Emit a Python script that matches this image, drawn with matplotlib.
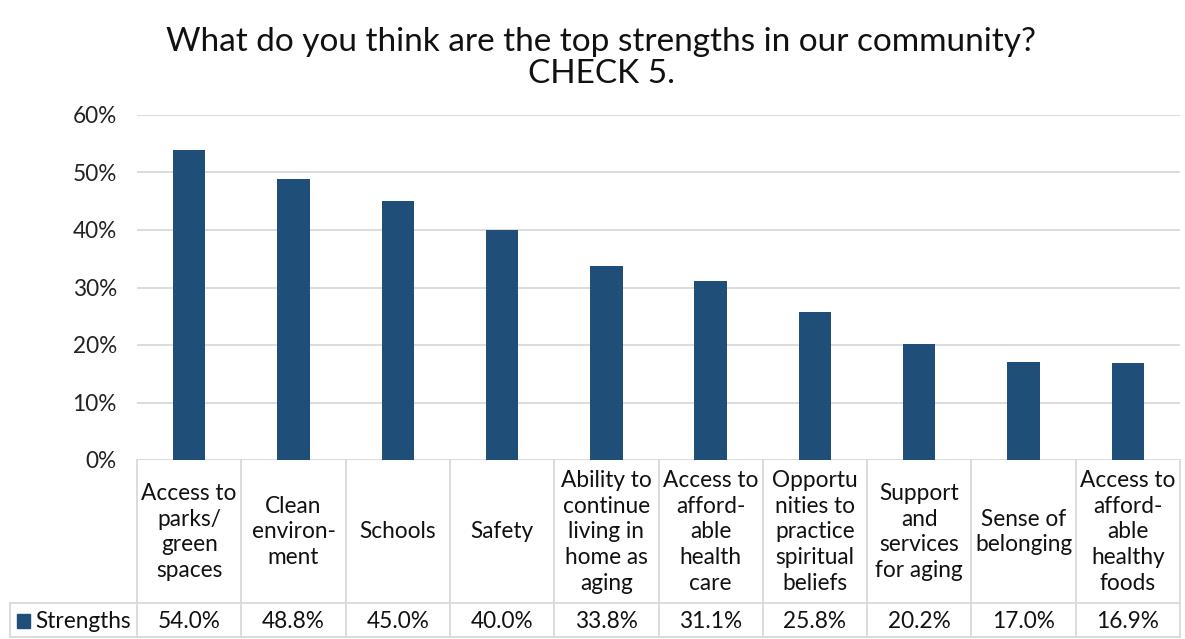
import matplotlib.pyplot as plt
import matplotlib.ticker as ticker
from matplotlib.patches import Rectangle

plt.rcParams['font.family'] = ['Lato', 'DejaVu Sans']

# data
categories = [
    'Access to\nparks/\ngreen\nspaces',
    'Clean\nenviron-\nment',
    'Schools',
    'Safety',
    'Ability to\ncontinue\nliving in\nhome as\naging',
    'Access to\nafford-\nable\nhealth\ncare',
    'Opportu\nnities to\npractice\nspiritual\nbeliefs',
    'Support\nand\nservices\nfor aging',
    'Sense of\nbelonging',
    'Access to\nafford-\nable\nhealthy\nfoods',
]
strengths = [54.0, 48.8, 45.0, 40.0, 33.8, 31.1, 25.8, 20.2, 17.0, 16.9]
series_name = 'Strengths'
title = 'What do you think are the top strengths in our community?\nCHECK 5.'

bar_color = '#1F4E79'
line_color = '#D9D9D9'
fs = 16.3

W, H = 1185, 639
fig = plt.figure(figsize=(W / 100, H / 100), dpi=100)
# plot area in pixels: x 137..1180, y 115..460
ax = fig.add_axes([137 / W, 1 - 460 / H, (1180 - 137) / W, (460 - 115) / H])

x = list(range(len(categories)))
ax.bar(x, [v / 100 for v in strengths], width=0.31, color=bar_color, zorder=3)

ax.set_xlim(-0.5, len(categories) - 0.5)
ax.set_ylim(0, 0.6)
ax.yaxis.set_major_locator(ticker.MultipleLocator(0.1))
ax.yaxis.set_major_formatter(ticker.PercentFormatter(1.0, decimals=0))
ax.grid(which='major', axis='y', color=line_color, linewidth=1.3, zorder=0)
ax.tick_params(axis='y', length=0, labelsize=fs, pad=14.5, labelcolor='#222222')
ax.set_xticks([])
for s in ax.spines.values():
    s.set_visible(False)

# data table below the plot
ph = 460 - 115  # axes height in px
def ay(py):
    return (460 - py) / ph

row1_bot = ay(603)
row2_bot = ay(637)
tr = ax.get_xaxis_transform()
lw = 1.3
col_px = (1180 - 137) / len(categories)
legend_left = -0.5 + (10 - 137) / col_px

# vertical lines
for k in range(len(categories) + 1):
    ax.plot([k - 0.5, k - 0.5], [0, row2_bot], transform=tr, color=line_color,
            lw=lw, clip_on=False)
ax.plot([legend_left, legend_left], [row1_bot, row2_bot], transform=tr,
        color=line_color, lw=lw, clip_on=False)
# horizontal lines
for yy in (row1_bot, row2_bot):
    ax.plot([legend_left, len(categories) - 0.5], [yy, yy], transform=tr,
            color=line_color, lw=lw, clip_on=False)

for xi, cat, val in zip(x, categories, strengths):
    ax.text(xi, ay(532), cat, transform=tr, ha='center', va='center',
            fontsize=fs, linespacing=1.29, color='#111111')
    ax.text(xi, ay(621), f'{val:.1f}%', transform=tr,
            ha='center', va='center', fontsize=fs, color='#111111')

# legend key in table
ax.add_patch(Rectangle((legend_left + 7 / col_px, ay(628)), 13 / col_px, ay(614) - ay(628),
                       transform=tr, color=bar_color, clip_on=False))
ax.text(legend_left + 25 / col_px, ay(621), series_name,
        transform=tr, ha='left', va='center', fontsize=fs, color='#111111')

fig.text(601 / W, 1 - 58 / H, title, ha='center', va='center', fontsize=24,
         linespacing=1.05, color='#111111')

fig.savefig('out.png', dpi=100)
